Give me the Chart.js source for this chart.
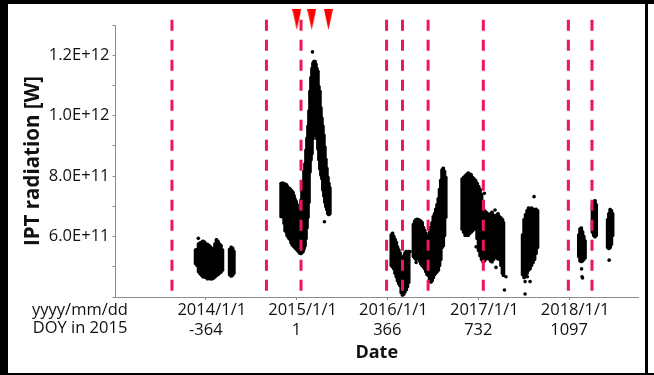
<!DOCTYPE html>
<html>
<head>
<meta charset="utf-8">
<script src="https://cdn.jsdelivr.net/npm/chart.js@4.4.1/dist/chart.umd.min.js"></script>
<style>
  html, body { margin: 0; padding: 0; background: #fff; }
  #wrap { position: relative; width: 654px; height: 375px; overflow: hidden; background: #fff; }
  #wrap canvas { position: absolute; left: 0; top: 0; }
  .edge { position: absolute; background: #000; }
</style>
</head>
<body>
<div id="wrap">
  <canvas id="ipt" width="654" height="375"></canvas>
  <div class="edge" style="left:0;top:0;width:654px;height:4px"></div>
  <div class="edge" style="left:0;top:0;width:8px;height:375px"></div>
  <div class="edge" style="left:0;top:373px;width:654px;height:2px"></div>
  <div class="edge" style="left:645px;top:0;width:3px;height:375px"></div>
</div>
<script>
// x axis: day of year counted from 2015/1/1 (DOY in 2015)
const yearTicks = [-364, 1, 366, 732, 1097];
const yearLabels = ['2014/1/1', '2015/1/1', '2016/1/1', '2017/1/1', '2018/1/1'];
const doyLabels = ['-364', '1', '366', '732', '1097'];
const rowNames = ['yyyy/mm/dd', 'DOY in 2015'];
const yLabelValues = [6e11, 8e11, 1e12, 1.2e12];

// vertical dashed event lines (DOY) and the red markers on top
const eventDays = [-500, -120, 19, 363, 427, 530, 752, 1094, 1189];
const markerDays = [2, 62, 129];

// IPT radiation spread per time step: [DOY, low, high] in units of 1E+11 W
const band2014 = [
  [-405, 5.06, 5.60], [-399, 5.00, 5.62], [-393, 4.80, 5.80], [-387, 4.73, 5.83],
  [-381, 4.68, 5.86], [-375, 4.62, 5.89], [-369, 4.62, 5.86], [-363, 4.60, 5.80],
  [-357, 4.56, 5.78], [-351, 4.58, 5.75], [-345, 4.56, 5.70], [-339, 4.56, 5.61],
  [-333, 4.58, 5.65], [-327, 4.62, 5.80], [-321, 4.67, 5.94], [-315, 4.70, 5.88],
  [-309, 4.75, 5.80], [-303, 4.78, 5.75], [-297, 4.85, 5.60],
  [-268, 4.70, 5.62], [-262, 4.65, 5.69], [-256, 4.68, 5.66], [-251, 4.75, 5.55]
];
const band2015 = [
  [-61, 6.62, 7.80], [-57, 6.62, 7.81], [-53, 6.62, 7.81], [-49, 6.40, 7.70],
  [-45, 6.15, 7.78], [-41, 6.12, 7.77], [-37, 6.00, 7.72], [-33, 5.95, 7.66],
  [-29, 5.90, 7.64], [-25, 5.86, 7.62], [-21, 5.76, 7.58], [-17, 5.70, 7.54],
  [-13, 5.66, 7.50], [-9, 5.62, 7.40], [-5, 5.58, 7.28], [-1, 5.56, 7.21],
  [3, 5.52, 7.10], [7, 5.48, 6.90], [11, 5.44, 6.70], [15, 5.40, 6.90],
  [19, 5.39, 7.25], [23, 5.43, 7.60], [27, 5.46, 7.87], [31, 5.55, 8.20],
  [35, 5.65, 8.45], [39, 5.90, 8.90], [43, 6.25, 9.30], [47, 6.60, 9.70],
  [51, 7.10, 10.20], [55, 8.10, 10.85], [59, 8.50, 11.30], [63, 8.70, 11.60],
  [67, 9.20, 11.78], [71, 9.30, 11.84], [75, 9.43, 11.84], [79, 9.30, 11.75],
  [83, 9.20, 11.60], [87, 8.86, 11.51], [91, 8.50, 11.00], [95, 8.20, 10.85],
  [99, 8.00, 10.30], [103, 7.87, 9.96], [107, 7.50, 9.70], [111, 7.30, 9.40],
  [115, 7.10, 9.00], [119, 6.95, 8.60], [123, 6.85, 8.30], [127, 6.72, 8.00],
  [131, 6.68, 7.80], [135, 6.72, 7.65]
];
const band2016a = [
  [382, 5.00, 6.10], [387, 4.95, 6.16], [392, 4.90, 6.05], [397, 4.75, 5.95],
  [402, 4.63, 5.85], [407, 4.50, 5.70], [412, 4.40, 5.60], [417, 4.33, 5.50],
  [422, 4.10, 5.35], [427, 4.02, 5.30], [432, 4.05, 5.40], [437, 4.13, 5.50],
  [442, 4.20, 5.55], [447, 4.30, 5.50], [452, 4.45, 5.55]
];
const band2016b = [
  [471, 5.30, 6.45], [476, 5.25, 6.55], [481, 5.20, 6.60], [486, 5.25, 6.62],
  [491, 5.22, 6.60], [496, 5.15, 6.58], [501, 5.05, 6.55], [506, 5.00, 6.50],
  [511, 4.95, 6.35], [516, 4.90, 6.25], [521, 4.80, 6.15], [526, 4.70, 6.05],
  [531, 4.67, 6.00], [536, 4.50, 6.20], [541, 4.45, 6.35], [546, 4.50, 6.50],
  [551, 4.60, 6.70], [556, 4.70, 6.80], [561, 4.75, 6.95], [566, 4.80, 7.10],
  [571, 4.85, 7.30], [576, 5.00, 7.60], [581, 5.20, 7.90], [586, 5.60, 8.25],
  [591, 5.66, 8.31], [596, 6.00, 8.20], [601, 6.60, 8.00]
];
const band2017a = [
  [667, 6.20, 7.95], [673, 6.10, 8.00], [679, 6.00, 8.05], [685, 6.00, 8.10],
  [691, 6.00, 8.15], [697, 6.05, 8.12], [703, 6.10, 8.09], [709, 6.15, 8.00],
  [715, 6.20, 7.95], [721, 6.22, 7.90], [727, 5.90, 7.80], [733, 5.50, 7.70],
  [739, 5.33, 7.60], [745, 5.20, 7.43], [751, 5.12, 7.20], [757, 5.15, 6.90],
  [763, 5.22, 6.85], [769, 5.25, 6.80], [775, 5.22, 6.77], [781, 5.15, 6.80],
  [787, 5.12, 6.85], [793, 5.20, 6.75], [799, 5.30, 6.70], [805, 5.25, 6.75],
  [811, 5.22, 6.80], [817, 5.20, 6.70], [823, 5.00, 6.66], [829, 4.75, 6.60],
  [833, 4.67, 6.50]
];
const band2017b = [
  [910, 4.70, 6.10], [916, 4.60, 6.60], [922, 4.65, 6.77], [928, 4.75, 6.90],
  [934, 4.85, 6.99], [940, 4.90, 6.95], [946, 5.00, 6.99], [952, 5.10, 6.95],
  [958, 5.20, 6.90], [964, 5.40, 6.95], [970, 5.60, 6.90]
];
const band2018a = [
  [1136, 5.30, 6.10], [1141, 5.15, 6.30], [1146, 5.13, 6.33], [1151, 5.15, 6.20],
  [1156, 5.20, 6.05], [1161, 5.25, 5.90]
];
const band2018b = [
  [1191, 6.10, 7.10], [1196, 6.00, 7.20], [1201, 5.95, 7.23], [1206, 6.00, 7.10]
];
const band2018c = [
  [1252, 5.60, 6.60], [1257, 5.56, 6.80], [1262, 5.60, 6.94], [1267, 5.70, 6.90],
  [1272, 6.00, 6.80]
];
// single stray points: [DOY, value in 1E+11 W]
const strayPoints = [
  [-394, 5.94], [65, 12.11], [113, 6.49], [457, 5.50], [482, 5.14], [562, 6.60],
  [723, 5.66], [756, 7.43], [799, 6.88], [803, 4.98], [837, 4.23], [843, 4.67],
  [920, 4.10], [920, 4.51], [929, 4.67], [940, 4.51], [956, 7.32],
  [1147, 4.93], [1149, 4.67], [1151, 4.63], [1258, 5.22]
];

const E11 = 1e11;
const lineTop = 13.17 * E11;
const lineBottom = 4.07 * E11;
const markerLevel = 13.18 * E11;
const textColor = '#111';
const axisColor = '#8c8c8c';
const eventColor = '#f0145a';
const font = 'Open Sans';

const allBands = [...band2014, ...band2015, ...band2016a, ...band2016b,
  ...band2017a, ...band2017b, ...band2018a, ...band2018b, ...band2018c];

// narrow downward triangle for the red markers
const tri = document.createElement('canvas');
tri.width = 9; tri.height = 21;
const tctx = tri.getContext('2d');
tctx.fillStyle = '#ff0000';
tctx.beginPath();
tctx.moveTo(0, 0); tctx.lineTo(9, 0); tctx.lineTo(4.5, 21); tctx.closePath();
tctx.fill();

const datasets = [];
eventDays.forEach(d => {
  datasets.push({
    type: 'line',
    data: [{x: d, y: lineTop}, {x: d, y: lineBottom}],
    borderColor: eventColor,
    borderWidth: 3,
    borderDash: [11, 9],
    pointRadius: 0,
    clip: false,
    order: 0
  });
});
datasets.push({
  type: 'scatter',
  data: markerDays.map(d => ({x: d, y: markerLevel})),
  pointStyle: tri,
  pointRadius: 12, // only widens the visibility margin, the image sets the size
  clip: false,
  order: 0
});
datasets.push({
  type: 'bar',
  data: allBands.map(([d, lo, hi]) => ({x: d, y: [lo * E11, hi * E11]})),
  backgroundColor: '#000',
  barThickness: 3,
  borderRadius: 1.5,
  borderSkipped: false,
  order: 2
});
datasets.push({
  type: 'scatter',
  data: strayPoints.map(([d, v]) => ({x: d, y: v * E11})),
  pointRadius: 1.8,
  backgroundColor: '#000',
  borderWidth: 0,
  order: 1
});

// row captions on the left and the date line above the DOY tick labels
const dateRows = {
  id: 'dateRows',
  afterDraw(chart) {
    const ctx = chart.ctx;
    const xs = chart.scales.x;
    ctx.save();
    ctx.font = '16.5px "' + font + '"';
    ctx.fillStyle = textColor;
    ctx.textAlign = 'center';
    ctx.textBaseline = 'middle';
    ctx.fillText(rowNames[0], 80, 310);
    ctx.fillText(rowNames[1], 80, 328);
    yearTicks.forEach((v, i) => {
      ctx.fillText(yearLabels[i], xs.getPixelForValue(v) + 6, 310);
    });
    ctx.restore();
  }
};

new Chart(document.getElementById('ipt'), {
  type: 'scatter',
  data: { datasets: datasets },
  options: {
    responsive: false,
    animation: false,
    devicePixelRatio: 1,
    layout: { padding: { left: 8, top: 25, right: 16, bottom: 2 } },
    plugins: { legend: { display: false }, tooltip: { enabled: false } },
    scales: {
      x: {
        type: 'linear',
        min: -727,
        max: 1374,
        offset: false,
        afterBuildTicks: s => { s.ticks = yearTicks.map(v => ({ value: v })); },
        afterFit: s => { s.height = 76; },
        ticks: {
          autoSkip: false,
          maxRotation: 0,
          padding: 20,
          color: textColor,
          font: { family: font, size: 16.5, lineHeight: 1.2 },
          callback: v => {
            const i = yearTicks.indexOf(v);
            return i < 0 ? '' : doyLabels[i];
          }
        },
        grid: { drawOnChartArea: false, tickLength: 3, color: axisColor, offset: false },
        border: { color: axisColor, width: 1 },
        title: {
          display: true,
          text: 'Date',
          color: textColor,
          font: { family: font, size: 18, weight: 'bold' },
          padding: { top: 0, bottom: 9 }
        }
      },
      y: {
        type: 'linear',
        min: 4e11,
        max: 1.3e12,
        beginAtZero: false,
        afterFit: s => { s.width = 107.5; },
        ticks: {
          stepSize: 1e11,
          padding: 3,
          color: textColor,
          font: { family: font, size: 16.5 },
          callback: v => yLabelValues.some(t => Math.abs(t - v) < 1e9)
            ? v.toExponential(1).toUpperCase() : ''
        },
        grid: { drawOnChartArea: false, tickLength: 3, color: axisColor },
        border: { color: axisColor, width: 1 },
        title: {
          display: true,
          text: 'IPT radiation [W]',
          color: textColor,
          font: { family: font, size: 20.5, weight: 'bold' },
          padding: { top: 13, bottom: 0 }
        }
      }
    }
  },
  plugins: [dateRows]
});
</script>
</body>
</html>
